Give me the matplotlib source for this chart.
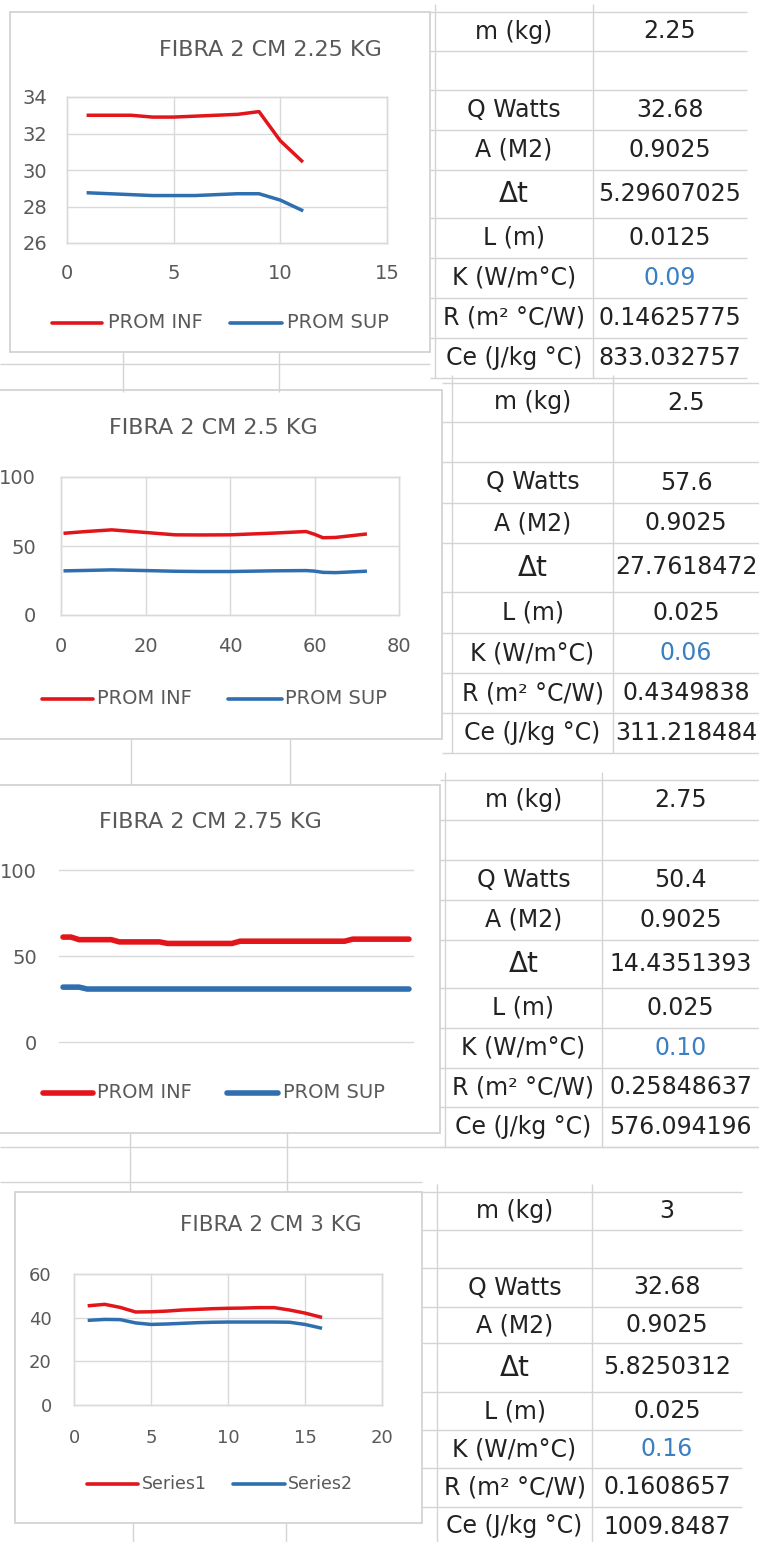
import matplotlib
matplotlib.use("Agg")
import matplotlib.pyplot as plt
from matplotlib.patches import Rectangle

plt.rcParams['font.family'] = ['DejaVu Sans']

# ---------------- data ----------------
c1_title = "FIBRA 2 CM 2.25 KG"
c1_x = [1, 2, 3, 4, 5, 6, 7, 8, 9, 10, 11]
c1_inf = [33.0, 33.0, 33.0, 32.9, 32.9, 32.95, 33.0, 33.05, 33.2, 31.6, 30.5]
c1_sup = [28.75, 28.7, 28.65, 28.6, 28.6, 28.6, 28.65, 28.7, 28.7, 28.35, 27.8]

c2_title = "FIBRA 2 CM 2.5 KG"
c2_x = [1, 6, 12, 20, 27, 33, 40, 50, 58, 60, 62, 65, 72]
c2_inf = [59.3, 60.5, 61.7, 59.8, 58.1, 58.0, 58.1, 59.3, 60.5, 58.5, 56.0, 56.2, 58.6]
c2_sup = [32.0, 32.3, 32.7, 32.2, 31.7, 31.5, 31.5, 32.0, 32.2, 31.8, 30.9, 30.7, 31.7]

c3_title = "FIBRA 2 CM 2.75 KG"
c3_inf = ([61.0, 61.0] + [59.5] * 5 + [58.2] * 6 + [57.3] * 9 + [58.6] * 14 + [59.8] * 8)
c3_sup = ([31.9] * 3 + [30.8] * 41)

c4_title = "FIBRA 2 CM 3 KG"
c4_x = list(range(1, 17))
c4_s1 = [45.5, 46.1, 44.7, 42.6, 42.7, 43.0, 43.5, 43.8, 44.1, 44.3, 44.4, 44.6, 44.6, 43.5, 42.1, 40.3]
c4_s2 = [38.8, 39.2, 39.1, 37.6, 36.9, 37.1, 37.4, 37.7, 37.9, 38.0, 38.0, 38.0, 38.0, 37.9, 36.9, 35.3]

legend_a = ["PROM INF", "PROM SUP"]
legend_b = ["Series1", "Series2"]

row_labels = ["m (kg)", "", "Q Watts", "A (M2)", "\u0394t", "L (m)", "K (W/m\u00b0C)",
              "R (m\u00b2 \u00b0C/W)", "Ce (J/kg \u00b0C)"]
t1_vals = ["2.25", "", "32.68", "0.9025", "5.29607025", "0.0125", "0.09", "0.14625775", "833.032757"]
t2_vals = ["2.5", "", "57.6", "0.9025", "27.7618472", "0.025", "0.06", "0.4349838", "311.218484"]
t3_vals = ["2.75", "", "50.4", "0.9025", "14.4351393", "0.025", "0.10", "0.25848637", "576.094196"]
t4_vals = ["3", "", "32.68", "0.9025", "5.8250312", "0.025", "0.16", "0.1608657", "1009.8487"]

# ---------------- style ----------------
W, H = 759, 1542
RED = "#e2151b"
BLUE = "#2f6fb0"
GRID = "#d9d9d9"
SHEET = "#d4d4d4"
TXT = "#595959"
CELL = "#222222"
KBLUE = "#3a7fc2"

fig = plt.figure(figsize=(W / 100, H / 100), dpi=100)
fig.patch.set_facecolor("white")

bg = fig.add_axes([0, 0, 1, 1], zorder=0)
bg.set_xlim(0, W)
bg.set_ylim(H, 0)
bg.axis("off")


def hline(y, x0, x1, c=SHEET, lw=1.0):
    bg.plot([x0, x1], [y, y], color=c, lw=lw, solid_capstyle="butt")


def vline(x, y0, y1, c=SHEET, lw=1.0):
    bg.plot([x, x], [y0, y1], color=c, lw=lw, solid_capstyle="butt")


def box(x0, y0, x1, y1):
    bg.add_patch(Rectangle((x0, y0), x1 - x0, y1 - y0, facecolor="white",
                           edgecolor="#cfcfcf", lw=1.2, zorder=1))


def place(x0, y0, x1, y1):
    ax = fig.add_axes([x0 / W, 1 - y1 / H, (x1 - x0) / W, (y1 - y0) / H], zorder=2)
    ax.set_facecolor("none")
    return ax


def style(ax, fs, xpad, ypad, vgrid=True):
    ax.grid(True, axis="y", color=GRID, lw=1.0)
    if vgrid:
        ax.grid(True, axis="x", color=GRID, lw=1.0)
    for sp in ax.spines.values():
        sp.set_visible(vgrid)
        sp.set_color(GRID)
        sp.set_linewidth(1.0)
    ax.set_axisbelow(True)
    ax.tick_params(axis="both", length=0, labelsize=fs, labelcolor=TXT)
    ax.tick_params(axis="x", pad=xpad)
    ax.tick_params(axis="y", pad=ypad)
    for gl in ax.get_ygridlines() + ax.get_xgridlines():
        gl.set_clip_on(False)


def legend(y, items, fs, lw):
    for (x0, x1, tx, label, col) in items:
        bg.plot([x0, x1], [y, y], color=col, lw=lw, solid_capstyle="round", zorder=3)
        bg.text(tx, y, label, fontsize=fs, color=TXT, ha="left", va="center", zorder=3)


def table(bounds, xl, xm, xr, xstart, values):
    for b in bounds:
        hline(b, xstart, xr)
    vline(xl, bounds[0] - 8, bounds[-1])
    vline(xm, bounds[0] - 8, bounds[-1])
    cl = (xl + xm) / 2
    cv = (xm + xr) / 2
    for i, (lab, val) in enumerate(zip(row_labels, values)):
        cy = (bounds[i] + bounds[i + 1]) / 2
        fs = 20 if lab == "\u0394t" else 17
        bg.text(cl, cy, lab, fontsize=fs, color=CELL, ha="center", va="center", zorder=3)
        col = KBLUE if lab.startswith("K (") else CELL
        bg.text(cv, cy, val, fontsize=17, color=col, ha="center", va="center", zorder=3)


# ---------------- spreadsheet grid fragments ----------------
hline(364, 0, 430)
vline(123, 352, 392)
vline(279, 352, 392)
vline(131, 739, 785)
vline(290, 739, 785)
hline(1147, 0, 759)
hline(1182, 0, 422)
vline(130, 1133, 1192)
vline(287, 1133, 1192)
vline(133, 1523, 1542)
vline(286, 1523, 1542)

# ---------------- chart boxes ----------------
box(10, 12, 430, 352)
box(-5, 390, 442, 739)
box(-5, 785, 440, 1133)
box(15, 1192, 422, 1523)

# ---------------- chart 1 ----------------
ax1 = place(67, 97, 387, 243)
ax1.plot(c1_x, c1_inf, color=RED, lw=2.5, solid_joinstyle="round")
ax1.plot(c1_x, c1_sup, color=BLUE, lw=2.5, solid_joinstyle="round")
ax1.set_xlim(0, 15)
ax1.set_ylim(26, 34)
ax1.set_xticks([0, 5, 10, 15])
ax1.set_yticks([26, 28, 30, 32, 34])
style(ax1, 14, 15, 14)
bg.text(270, 50, c1_title, fontsize=16, color=TXT, ha="center", va="center", zorder=3)
legend(323, [(52, 102, 108, legend_a[0], RED), (230, 282, 287, legend_a[1], BLUE)], 14, 2.6)

# ---------------- chart 2 ----------------
ax2 = place(61, 477, 399, 615)
ax2.plot(c2_x, c2_inf, color=RED, lw=2.5, solid_joinstyle="round")
ax2.plot(c2_x, c2_sup, color=BLUE, lw=2.5, solid_joinstyle="round")
ax2.set_xlim(0, 80)
ax2.set_ylim(0, 100)
ax2.set_xticks([0, 20, 40, 60, 80])
ax2.set_yticks([0, 50, 100])
style(ax2, 14, 16, 18)
bg.text(213, 428, c2_title, fontsize=16, color=TXT, ha="center", va="center", zorder=3)
legend(699, [(42, 93, 97, legend_a[0], RED), (228, 282, 285, legend_a[1], BLUE)], 14, 2.6)

# ---------------- chart 3 ----------------
ax3 = place(59, 870, 413, 1042)
c3_idx = list(range(len(c3_inf)))
ax3.plot(c3_idx, c3_inf, color=RED, lw=4.0, solid_capstyle="round", solid_joinstyle="round")
ax3.plot(c3_idx, c3_sup, color=BLUE, lw=4.0, solid_capstyle="round", solid_joinstyle="round")
ax3.set_xlim(-0.5, len(c3_inf) - 0.5)
ax3.set_ylim(0, 100)
ax3.set_xticks([])
ax3.set_yticks([0, 50, 100])
style(ax3, 14, 10, 16, vgrid=False)
bg.text(210, 822, c3_title, fontsize=16, color=TXT, ha="center", va="center", zorder=3)
legend(1093, [(43, 93, 97, legend_a[0], RED), (227, 278, 283, legend_a[1], BLUE)], 14, 4.0)

# ---------------- chart 4 ----------------
ax4 = place(74, 1274, 382, 1405)
ax4.plot(c4_x, c4_s1, color=RED, lw=2.5, solid_joinstyle="round")
ax4.plot(c4_x, c4_s2, color=BLUE, lw=2.5, solid_joinstyle="round")
ax4.set_xlim(0, 20)
ax4.set_ylim(0, 60)
ax4.set_xticks([0, 5, 10, 15, 20])
ax4.set_yticks([0, 20, 40, 60])
style(ax4, 13, 17, 16)
bg.text(271, 1225, c4_title, fontsize=15.5, color=TXT, ha="center", va="center", zorder=3)
legend(1484, [(87, 138, 142, legend_b[0], RED), (233, 285, 288, legend_b[1], BLUE)], 12.5, 2.6)

# ---------------- tables ----------------
table([12, 51, 90, 130, 170, 218, 258, 298, 338, 378], 435, 593, 747, 430, t1_vals)
table([383, 422, 462, 503, 543, 592, 633, 673, 713, 753], 452, 613, 759, 442, t2_vals)
table([780, 820, 860, 900, 940, 988, 1028, 1068, 1107, 1147], 445, 602, 759, 440, t3_vals)
table([1192, 1230, 1268, 1307, 1343, 1392, 1430, 1468, 1507, 1546], 437, 592, 742, 422, t4_vals)

fig.savefig("out.png", dpi=100, facecolor="white")
